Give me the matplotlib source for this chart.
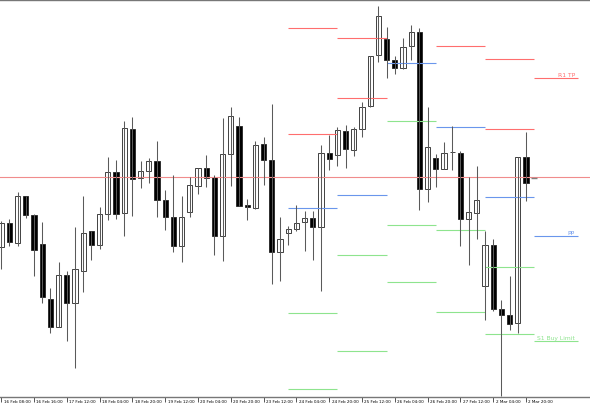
import numpy as np
import matplotlib
matplotlib.use('Agg')
import matplotlib.pyplot as plt
import matplotlib.transforms as mtransforms

# 4h candles, prices in chart points
opens  = [151.7, 175.7, 156.3, 202.7, 184.3, 155.3, 100.0, 71.7, 124.3, 95.7,
          128.3, 167.7, 153.7, 185.0, 226.7, 185.7, 270.0, 220.7, 227.7, 237.7,
          199.0, 181.7, 152.7, 186.7, 213.3, 230.7, 222.0, 163.3, 245.0, 273.3,
          194.0, 191.3, 254.7, 239.3, 146.7, 165.7, 170.0, 176.7, 181.0, 172.3,
          245.7, 244.0, 268.3, 249.3, 269.7, 292.7, 344.0, 360.0, 339.0, 331.0,
          352.7, 367.3, 209.7, 241.3, 229.7, 246.7, 246.3, 180.0, 185.7, 113.3,
          154.3, 89.7, 84.3, 75.7, 242.0, 221.5]
highs  = [178.0, 180.0, 206.7, 203.3, 185.0, 176.7, 110.7, 136.7, 128.3, 171.7,
          202.7, 168.0, 191.7, 241.7, 239.3, 278.3, 281.7, 238.3, 241.0, 257.7,
          209.0, 224.0, 203.3, 221.7, 231.0, 244.3, 224.0, 281.0, 291.7, 282.0,
          200.0, 257.7, 261.7, 295.0, 181.7, 173.3, 194.0, 187.7, 187.7, 254.3,
          264.0, 271.7, 274.0, 271.7, 296.7, 342.7, 393.3, 371.7, 342.7, 360.7,
          374.0, 370.7, 291.7, 245.0, 256.7, 273.3, 248.3, 221.7, 232.7, 168.3,
          160.0, 99.0, 123.3, 242.0, 267.3, 221.5]
lows   = [130.0, 153.0, 152.7, 180.7, 123.3, 96.0, 65.7, 71.7, 58.3, 30.7,
          106.7, 139.3, 150.0, 179.0, 180.0, 163.3, 183.3, 210.7, 215.7, 182.3,
          169.3, 147.3, 137.3, 181.7, 205.0, 211.7, 144.3, 137.7, 212.7, 192.7,
          179.3, 190.0, 214.3, 115.0, 118.3, 154.0, 167.7, 148.3, 139.3, 107.7,
          229.3, 233.3, 231.3, 243.3, 261.7, 291.7, 336.7, 320.7, 325.0, 330.0,
          339.3, 189.3, 196.7, 212.3, 229.7, 229.3, 153.3, 134.3, 160.0, 79.0,
          88.3, 3.3, 69.0, 65.7, 197.7, 221.5]
closes = [175.7, 156.7, 202.7, 184.0, 149.0, 101.7, 72.0, 123.7, 95.7, 129.7,
          165.7, 154.3, 184.7, 226.7, 185.0, 270.7, 220.0, 228.3, 237.7, 199.3,
          181.7, 153.3, 181.7, 213.7, 230.7, 221.3, 163.3, 245.0, 283.3, 193.3,
          191.7, 254.0, 239.3, 146.7, 160.0, 170.0, 175.7, 181.0, 172.3, 246.3,
          240.3, 269.0, 249.7, 270.0, 292.3, 342.7, 382.7, 339.3, 331.0, 352.3,
          366.7, 210.0, 251.7, 230.0, 246.3, 246.7, 179.7, 186.7, 199.0, 154.0,
          89.7, 84.3, 75.0, 242.0, 216.0, 221.5]
bid = 221.7

tick_labels = ['16 Feb 08:00', '16 Feb 16:00', '17 Feb 12:00', '18 Feb 04:00',
               '18 Feb 20:00', '19 Feb 12:00', '20 Feb 04:00', '20 Feb 20:00',
               '23 Feb 12:00', '24 Feb 04:00', '24 Feb 20:00', '25 Feb 12:00',
               '26 Feb 04:00', '26 Feb 20:00', '27 Feb 12:00', '2 Mar 04:00',
               '2 Mar 20:00']

# daily pivot levels (one segment per day)
day_start = [35, 41, 47, 53, 59, 65]
day_end = [41, 47, 53, 59, 65, 70.4]
res_levels = [[370.7, 265.0], [360.7, 300.7], [], [353.3], [339.7, 269.7], [320.7]]
pp_levels = [190.7, 204.0, 335.7, 271.7, 201.7, 162.7]
sup_levels = [[85.7, 10.0], [144.0, 47.7], [278.3, 174.3, 116.7], [169.3, 86.7],
              [131.7, 64.7], [57.7]]

red = '#ff6e6e'
blue = '#6a96ec'
green = '#8ee48e'

fig = plt.figure(figsize=(5.9, 4.1), dpi=100)
ax = fig.add_axes([0, 12 / 410, 1, 397 / 410])

idx = np.arange(len(opens))
o = np.array(opens)
c = np.array(closes)

# pivot segments
for i in range(len(day_start)):
    for lv in res_levels[i]:
        ax.hlines(lv, day_start[i], day_end[i], color=red, lw=0.8)
    ax.hlines(pp_levels[i], day_start[i], day_end[i], color=blue, lw=0.8)
    for lv in sup_levels[i]:
        ax.hlines(lv, day_start[i], day_end[i], color=green, lw=0.8)

ax.axhline(bid, color='#f08c8c', lw=0.8)

# candles
ax.vlines(idx[:-1], np.array(lows)[:-1], np.array(highs)[:-1], color='#5a5a5a', lw=0.75)
up = c >= o
body_col = ['white' if u else 'black' for u in up]
ax.bar(idx[:-1], np.abs(c - o)[:-1], bottom=np.minimum(o, c)[:-1], width=0.62,
       color=body_col[:-1], edgecolor='#222222', linewidth=0.6)
# current bar (flat dash)
ax.hlines(c[-1], idx[-1] - 0.35, idx[-1] + 0.35, color='#808080', lw=1.0)

# labels for the current day
ax.text(69.95, res_levels[5][0] + 1.5, 'R1 TP', color=red, fontsize=4.3, ha='right', va='bottom')
ax.text(69.95, pp_levels[5] + 1.5, 'PP', color=blue, fontsize=4.3, ha='right', va='bottom')
ax.text(69.95, sup_levels[5][0] + 1.5, 'S1 Buy Limit', color=green, fontsize=4.3, ha='right', va='bottom')

ax.set_xlim(-1.2 / 8.2, (590 - 1.2) / 8.2)
ax.set_ylim(2, 399)

ax.set_xticks(np.arange(0, 4 * len(tick_labels), 4))
ax.set_xticklabels(tick_labels, fontsize=3.0, ha='left')
ax.tick_params(axis='x', length=3.6, width=0.7, color='#555555', pad=-1.8)
ax.set_yticks([])
for s in ['left', 'right']:
    ax.spines[s].set_visible(False)
for s in ['top', 'bottom']:
    ax.spines[s].set_color('#777777')
    ax.spines[s].set_linewidth(1.0)

# shift tick labels a bit to the right of their ticks
offset = mtransforms.ScaledTranslation(2.5 / 100, 0, fig.dpi_scale_trans)
for lab in ax.get_xticklabels():
    lab.set_transform(lab.get_transform() + offset)

plt.savefig('out.png', dpi=100)
